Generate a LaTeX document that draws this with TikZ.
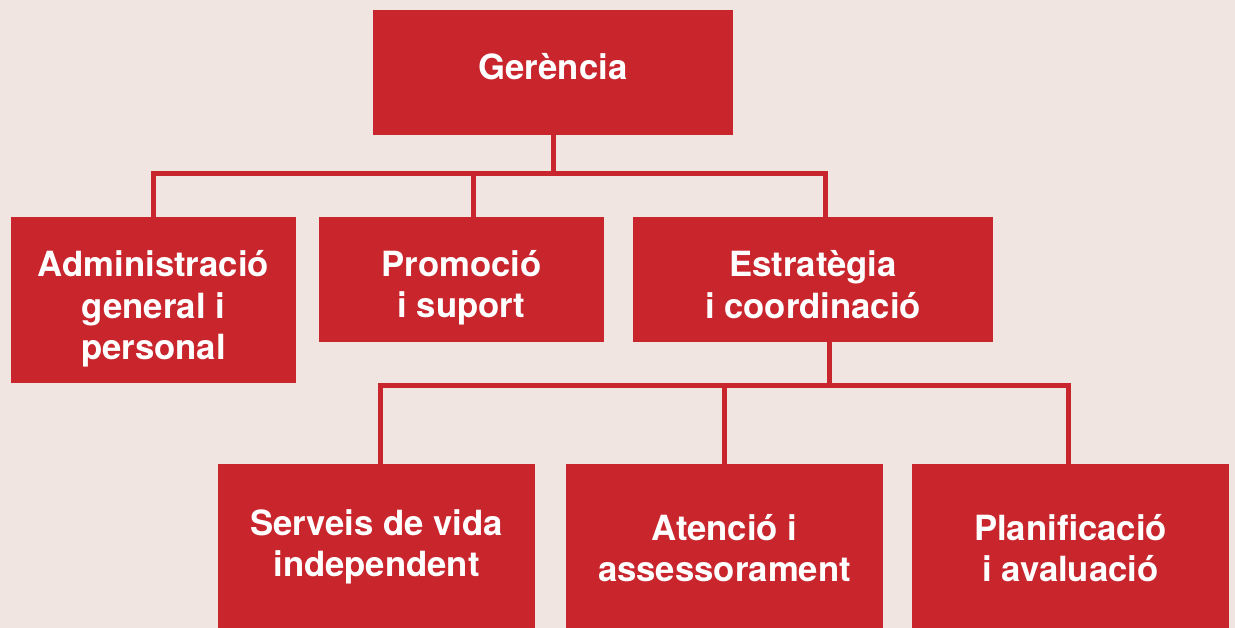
\documentclass[tikz,border=0pt]{standalone}
\usepackage{fontspec}
\setmainfont{TeX Gyre Heros}
\definecolor{bgc}{RGB}{240,229,224}
\definecolor{orgred}{RGB}{200,37,45}
\tikzset{
  unit/.style={rectangle, fill=orgred, inner sep=0pt},
  unittext/.style={text=white, inner sep=0pt, align=center,
    font=\fontsize{34.7pt}{41.5pt}\selectfont\bfseries},
  conn/.style={draw=orgred, line width=5pt, line join=miter}
}
\begin{document}
\begin{tikzpicture}[x=1pt,y=-1pt]
\fill[bgc] (0,0) rectangle (1235,628);
\useasboundingbox (0,0) rectangle (1235,628);

\node[unit, minimum width=360pt, minimum height=125pt] (ger) at (553,72.5) {};
\node[unit, minimum width=285pt, minimum height=166pt] (adm) at (153.5,300) {};
\node[unit, minimum width=285pt, minimum height=125pt] (pro) at (461.5,279.5) {};
\node[unit, minimum width=360pt, minimum height=125pt] (est) at (813,279.5) {};
\node[unit, minimum width=317pt, minimum height=164pt] (ser) at (376.5,546) {};
\node[unit, minimum width=317pt, minimum height=164pt] (ate) at (724.5,546) {};
\node[unit, minimum width=317pt, minimum height=164pt] (pla) at (1070.5,546) {};

\node[unittext] (gert) at ([yshift=6pt]ger.center) {Gerència};
\node[unittext] (admt) at ([yshift=-9pt]adm.center) {Administració\\general i\\personal};
\node[unittext] (prot) at ([yshift=-8pt]pro.center) {Promoció\\i suport};
\node[unittext] (estt) at ([yshift=-5pt]est.center) {Estratègia\\i coordinació};
\node[unittext] (sert) at ([yshift=-1pt]ser.center) {Serveis de vida\\independent};
\node[unittext] (atet) at ([yshift=-2pt]ate.center) {Atenció i\\assessorament};
\node[unittext] (plat) at ([yshift=-2pt]pla.center) {Planificació\\i avaluació};

\coordinate (b1) at (553,173.5);
\coordinate (b2) at (829.5,385.5);

\draw[conn] (ger.south) -- (b1);
\draw[conn] (adm.north) |- ([xshift=12.5pt]est.north |- b1) -- ([xshift=12.5pt]est.north);
\draw[conn] ([xshift=12pt]pro.north) -- ([xshift=12pt]pro.north |- b1);

\draw[conn] ([xshift=16.5pt]est.south) -- (b2);
\draw[conn] ([xshift=4pt]ser.north) |- ([xshift=-2.5pt]pla.north |- b2) -- ([xshift=-2.5pt]pla.north);
\draw[conn] (ate.north) -- (ate.north |- b2);
\end{tikzpicture}
\end{document}
